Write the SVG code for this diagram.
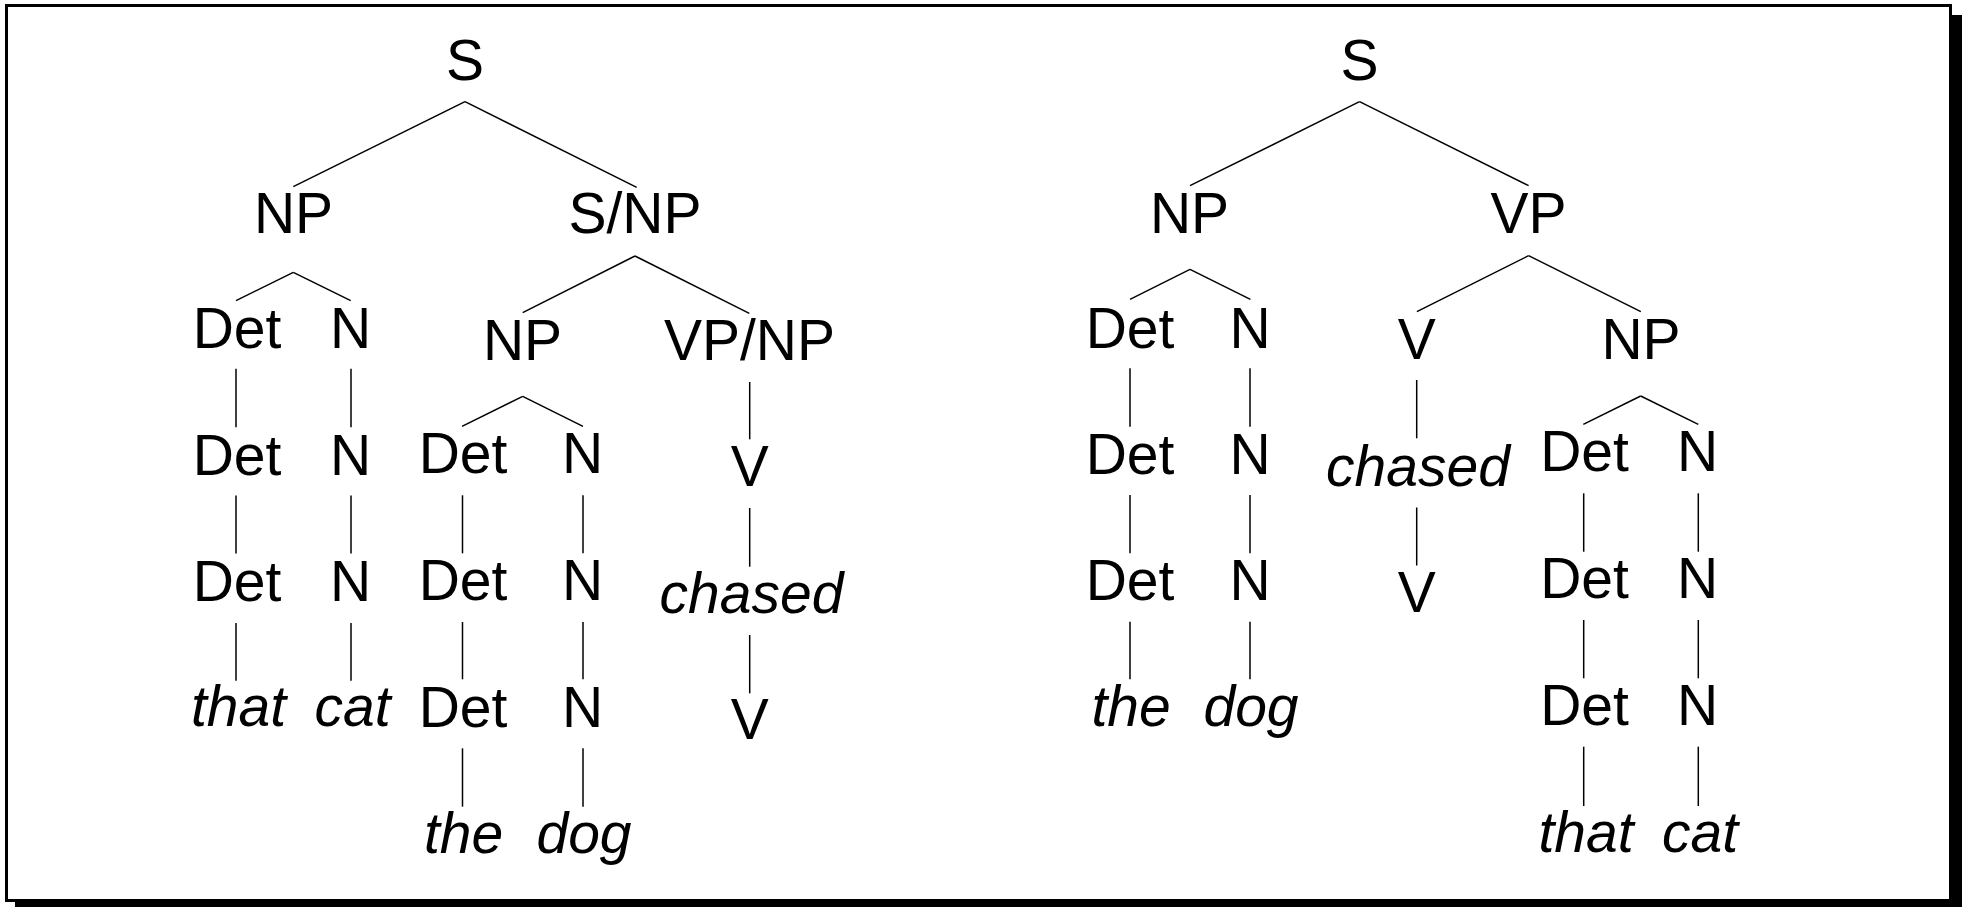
<svg xmlns="http://www.w3.org/2000/svg" width="1965" height="907" viewBox="0 0 1965 907">
<style>
text{font-family:"Liberation Sans",Arial,Helvetica,sans-serif;font-size:57px;fill:#000;text-anchor:middle}
text.w{font-style:italic}
#connectors line{stroke:#000;stroke-width:1.5;fill:none}
</style>
<rect x="0" y="0" width="1965" height="907" fill="#fff"/>
<g id="frame">
<rect x="6.5" y="5.5" width="1944" height="895" fill="none" stroke="#000" stroke-width="3"/>
<path d="M1952 15 H1962 V912 H15 V902 H1952 Z" fill="#000"/>
</g>
<g id="connectors">
<!-- left tree -->
<line x1="465" y1="101.7" x2="293.3" y2="186.7"/>
<line x1="465" y1="101.7" x2="636.7" y2="187.3"/>
<line x1="293.3" y1="272.3" x2="236" y2="300.7"/>
<line x1="293.3" y1="272.3" x2="350.7" y2="300.7"/>
<line x1="236" y1="368.7" x2="236" y2="427.3"/>
<line x1="236" y1="495.5" x2="236" y2="553.5"/>
<line x1="236" y1="623" x2="236" y2="680.7"/>
<line x1="351" y1="368.7" x2="351" y2="427.3"/>
<line x1="351" y1="495.5" x2="351" y2="553.5"/>
<line x1="351" y1="623" x2="351" y2="680.7"/>
<line x1="635" y1="256" x2="522.7" y2="312.7"/>
<line x1="635" y1="256" x2="749.3" y2="313.3"/>
<line x1="522.7" y1="396.3" x2="462" y2="426.3"/>
<line x1="522.7" y1="396.3" x2="583" y2="426.3"/>
<line x1="462.5" y1="495.3" x2="462.5" y2="553.3"/>
<line x1="462.5" y1="622" x2="462.5" y2="679.3"/>
<line x1="462.5" y1="748.3" x2="462.5" y2="806.7"/>
<line x1="583" y1="495.3" x2="583" y2="553.3"/>
<line x1="583" y1="622" x2="583" y2="679.3"/>
<line x1="583" y1="748.3" x2="583" y2="806.7"/>
<line x1="749.7" y1="382" x2="749.7" y2="439.3"/>
<line x1="749.7" y1="508" x2="749.7" y2="566.7"/>
<line x1="749.7" y1="635" x2="749.7" y2="693.3"/>
<!-- right tree -->
<line x1="1359.5" y1="101.7" x2="1190" y2="185.7"/>
<line x1="1359.5" y1="101.7" x2="1528.6" y2="185.7"/>
<line x1="1190" y1="269.3" x2="1130" y2="299.3"/>
<line x1="1190" y1="269.3" x2="1250.4" y2="299.3"/>
<line x1="1130" y1="368.3" x2="1130" y2="426.7"/>
<line x1="1130" y1="495" x2="1130" y2="553.3"/>
<line x1="1130" y1="621.7" x2="1130" y2="679.3"/>
<line x1="1250" y1="368.3" x2="1250" y2="426.7"/>
<line x1="1250" y1="495" x2="1250" y2="553.3"/>
<line x1="1250" y1="621.7" x2="1250" y2="679.3"/>
<line x1="1528.6" y1="255.7" x2="1416.9" y2="311.7"/>
<line x1="1528.6" y1="255.7" x2="1640.8" y2="311.7"/>
<line x1="1416.7" y1="380" x2="1416.7" y2="438.3"/>
<line x1="1416.7" y1="507.5" x2="1416.7" y2="565.5"/>
<line x1="1640.7" y1="396" x2="1583.3" y2="424.3"/>
<line x1="1640.7" y1="396" x2="1698.3" y2="424.3"/>
<line x1="1583.7" y1="493.3" x2="1583.7" y2="551.7"/>
<line x1="1583.7" y1="620" x2="1583.7" y2="678.3"/>
<line x1="1583.7" y1="746.7" x2="1583.7" y2="806"/>
<line x1="1698.3" y1="493.3" x2="1698.3" y2="551.7"/>
<line x1="1698.3" y1="620" x2="1698.3" y2="678.3"/>
<line x1="1698.3" y1="746.7" x2="1698.3" y2="806"/>
</g>
<!-- left tree nodes -->
<g id="L-S"><text x="465" y="80">S</text></g>
<g id="L-NP"><text x="293.5" y="233">NP</text></g>
<g id="L-SNP"><text x="635" y="233">S/NP</text></g>
<g id="L-Det1"><text x="237" y="348">Det</text></g>
<g id="L-N1"><text x="350.5" y="348">N</text></g>
<g id="L-Det2"><text x="237" y="474.5">Det</text></g>
<g id="L-N2"><text x="350.5" y="474.5">N</text></g>
<g id="L-Det3"><text x="237" y="600.5">Det</text></g>
<g id="L-N3"><text x="350.5" y="600.5">N</text></g>
<g id="L-that"><text class="w" x="238.5" y="726">that</text></g>
<g id="L-cat"><text class="w" x="352.5" y="726">cat</text></g>
<g id="L-NP2"><text x="522.5" y="360">NP</text></g>
<g id="L-VPNP"><text x="749.5" y="360">VP/NP</text></g>
<g id="L-Det4"><text x="463" y="472.7">Det</text></g>
<g id="L-N4"><text x="582.7" y="472.7">N</text></g>
<g id="L-Det5"><text x="463" y="599.5">Det</text></g>
<g id="L-N5"><text x="582.7" y="599.5">N</text></g>
<g id="L-Det6"><text x="463" y="726.5">Det</text></g>
<g id="L-N6"><text x="582.7" y="726.5">N</text></g>
<g id="L-the"><text class="w" x="463.5" y="852.5">the</text></g>
<g id="L-dog"><text class="w" x="584" y="852.5">dog</text></g>
<g id="L-V1"><text x="749.7" y="485.7">V</text></g>
<g id="L-chased"><text class="w" x="751.5" y="613.3">chased</text></g>
<g id="L-V2"><text x="749.7" y="739.3">V</text></g>
<!-- right tree nodes -->
<g id="R-S"><text x="1359.5" y="80">S</text></g>
<g id="R-NP"><text x="1189.5" y="232.5">NP</text></g>
<g id="R-VP"><text x="1528.6" y="232.5">VP</text></g>
<g id="R-Det1"><text x="1130" y="347.5">Det</text></g>
<g id="R-N1"><text x="1250" y="347.5">N</text></g>
<g id="R-Det2"><text x="1130" y="473.5">Det</text></g>
<g id="R-N2"><text x="1250" y="473.5">N</text></g>
<g id="R-Det3"><text x="1130" y="600">Det</text></g>
<g id="R-N3"><text x="1250" y="600">N</text></g>
<g id="R-the"><text class="w" x="1131" y="726">the</text></g>
<g id="R-dog"><text class="w" x="1251" y="726">dog</text></g>
<g id="R-V1"><text x="1416.7" y="359">V</text></g>
<g id="R-chased"><text class="w" x="1418" y="485.5">chased</text></g>
<g id="R-V2"><text x="1416.7" y="611.7">V</text></g>
<g id="R-NP2"><text x="1641" y="359">NP</text></g>
<g id="R-Det4"><text x="1584.5" y="471">Det</text></g>
<g id="R-N4"><text x="1697.5" y="471">N</text></g>
<g id="R-Det5"><text x="1584.5" y="598.3">Det</text></g>
<g id="R-N5"><text x="1697.5" y="598.3">N</text></g>
<g id="R-Det6"><text x="1584.5" y="725">Det</text></g>
<g id="R-N6"><text x="1697.5" y="725">N</text></g>
<g id="R-that"><text class="w" x="1586" y="851.7">that</text></g>
<g id="R-cat"><text class="w" x="1700" y="851.7">cat</text></g>
</svg>
